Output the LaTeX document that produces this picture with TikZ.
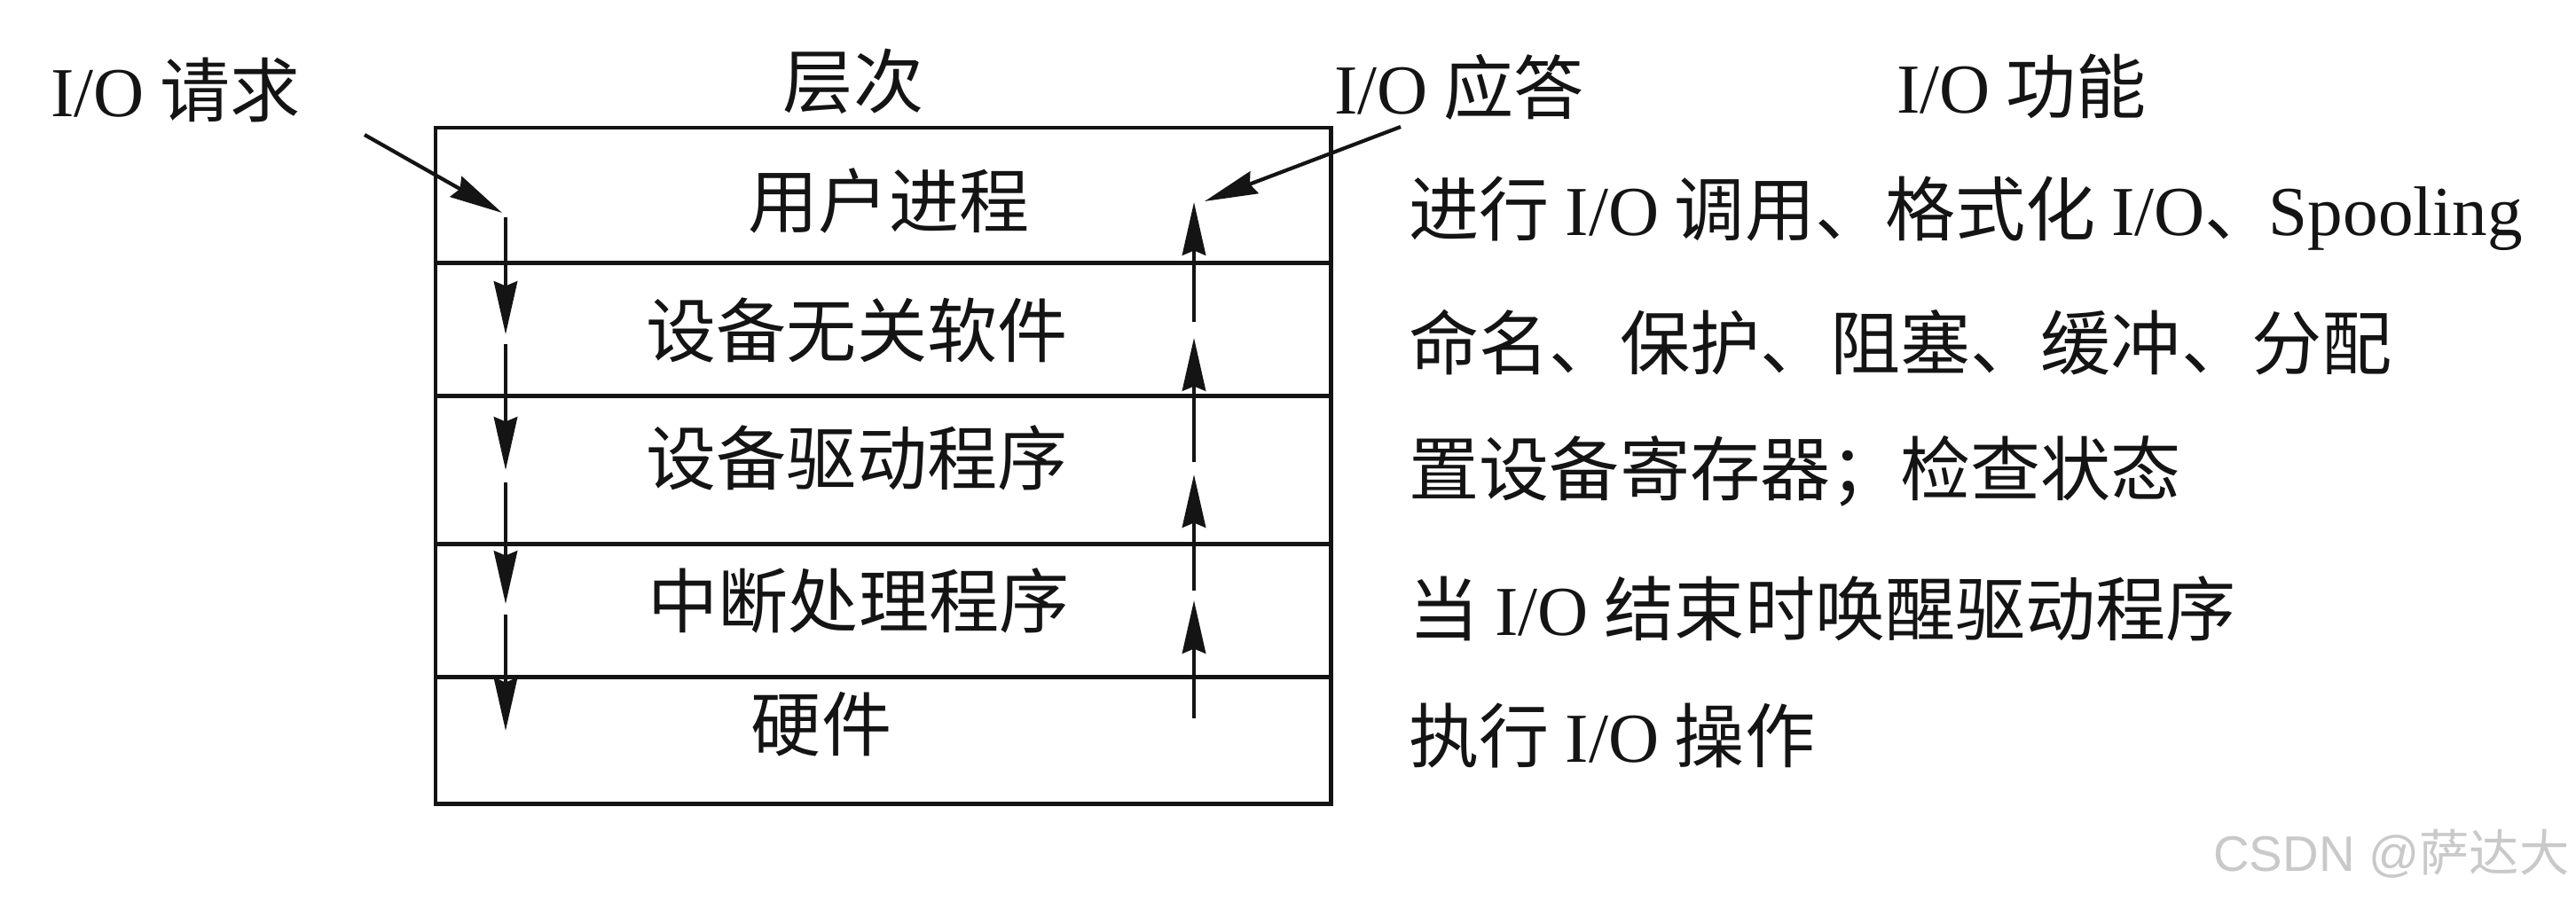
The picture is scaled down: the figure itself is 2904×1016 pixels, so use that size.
\documentclass[tikz,border=0pt]{standalone}
\usepackage{fontspec}
\usepackage{xcolor}
\setmainfont{Noto Sans CJK SC}
\newfontfamily\latinfont{Liberation Serif}
\newfontfamily\markfont{Liberation Sans}
\usetikzlibrary{arrows.meta, positioning}
\definecolor{inkblack}{HTML}{141414}
\definecolor{markgray}{HTML}{C9C9C9}
\newcommand{\IO}{{\latinfont I/O}}
\tikzset{
  % rows of the layer stack
  layer/.style={
    draw=inkblack, line width=1.4pt, minimum width=10.09cm,
    inner sep=0pt, outer sep=0pt,
  },
  % texts
  bigtext/.style={
    font=\fontsize{22.5}{27}\selectfont, text=inkblack, inner sep=0pt,
  },
  functext/.style={bigtext, anchor=west},
  marktext/.style={font=\fontsize{16}{19}\selectfont, text=markgray, inner sep=0pt},
  % request / answer arrows
  flow/.style={-{Stealth[length=17pt, width=7.5pt, inset=1.5pt]},
               line width=1.2pt, inkblack},
}
\begin{document}
\begin{tikzpicture}[x=0.01cm, y=-0.01cm]
  \useasboundingbox[fill=white] (0,0) rectangle (2904,1016);

  % layer stack
  \node[layer, minimum height=1.52cm, anchor=north west] (lay1) at (491,144) {};
  \node[layer, minimum height=1.50cm, below=0pt of lay1] (lay2) {};
  \node[layer, minimum height=1.67cm, below=0pt of lay2] (lay3) {};
  \node[layer, minimum height=1.50cm, below=0pt of lay3] (lay4) {};
  \node[layer, minimum height=1.43cm, below=0pt of lay4] (lay5) {};

  \node[bigtext] (user)  at (1002,226) {用户进程};
  \node[bigtext] (indep) at (966,372)  {设备无关软件};
  \node[bigtext] (drv)   at (966,516)  {设备驱动程序};
  \node[bigtext] (intr)  at (968,677)  {中断处理程序};
  \node[bigtext] (hw)    at (926,817)  {硬件};

  % headings
  \node[bigtext] (req)   at (198,102)  {\IO\ 请求};
  \node[bigtext] (lvl)   at (962,92)   {层次};
  \node[bigtext] (resp)  at (1645,98)  {\IO\ 应答};
  \node[bigtext] (func)  at (2279,97)  {\IO\ 功能};

  % functions of each layer
  \node[functext] (f1) at (1588,241) {进行 \IO\ 调用、格式化 \IO{}、\kern-2pt{\latinfont Spooling}};
  \node[functext] (f2) at (1588,386) {命名、保护、阻塞、缓冲、分配};
  \node[functext] (f3) at (1588,531) {置设备寄存器；检查状态};
  \node[functext] (f4) at (1588,686) {当 \IO\ 结束时唤醒驱动程序};
  \node[functext] (f5) at (1588,830) {执行 \IO\ 操作};

  % request goes down
  \coordinate (reqS) at (411,152);
  \coordinate (reqE) at (566,240);
  \draw[flow] (reqS) -- (reqE);
  \foreach \i/\a/\b in {1/245/377, 2/388/530, 3/544/681, 4/693/824} {
    \coordinate (dn\i s) at (570,\a);
    \coordinate (dn\i e) at (570,\b);
    \draw[flow] (dn\i s) -- (dn\i e);
  }

  % answer goes up
  \foreach \i/\a/\b in {1/810/677, 2/666/535, 3/521/381, 4/363/228} {
    \coordinate (up\i s) at (1346,\a);
    \coordinate (up\i e) at (1346,\b);
    \draw[flow] (up\i s) -- (up\i e);
  }
  \coordinate (respS) at (1579,143);
  \coordinate (respE) at (1358,227);
  \draw[flow] (respS) -- (respE);

  \node[marktext, anchor=east] (mark) at (2897,963) {{\markfont CSDN @}萨达大};
\end{tikzpicture}
\end{document}
